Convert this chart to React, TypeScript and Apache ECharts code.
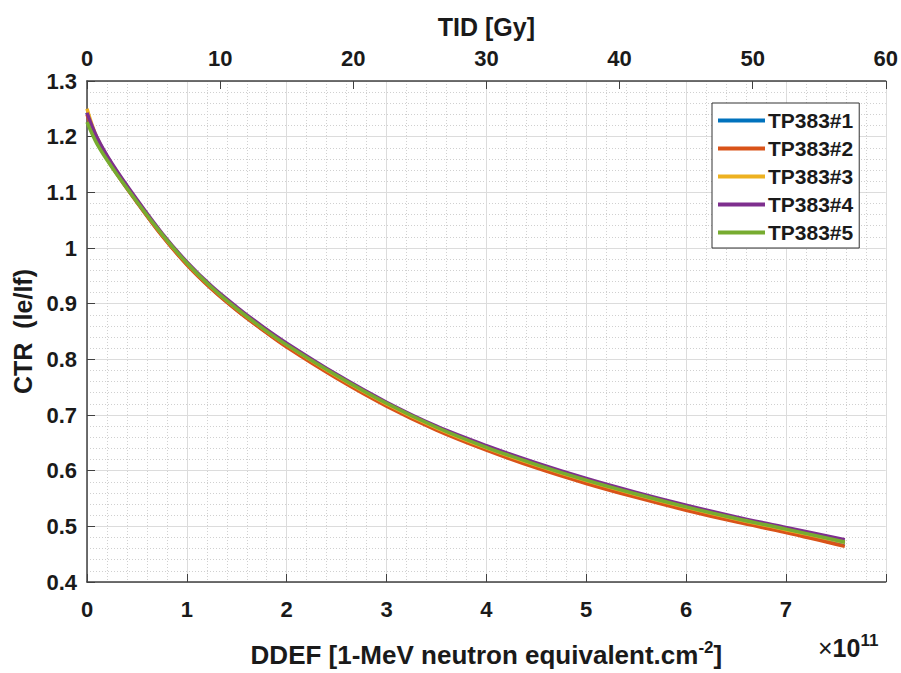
import React, { useEffect, useRef } from "react";
import * as echarts from "echarts";

const FONT = "'Liberation Sans', Arial, Helvetica, sans-serif";

const seriesNames = ["TP383#1", "TP383#2", "TP383#3", "TP383#4", "TP383#5"];
const seriesColors = ["#0072BD", "#D95319", "#EDB120", "#7E2F8E", "#77AC30"];

// DDEF (x 1e11)
const ddef = [0, 0.1, 0.25, 0.5, 0.75, 1, 1.25, 1.5, 1.75, 2, 2.5, 3, 3.5, 4, 4.5, 5, 5.5, 6, 6.5, 7, 7.59];

const ctr1 = [1.243, 1.195, 1.148, 1.083, 1.023, 0.971, 0.927, 0.889, 0.855, 0.824, 0.768, 0.718, 0.675, 0.639, 0.608, 0.580, 0.555, 0.532, 0.511, 0.492, 0.469];
const ctr2 = [1.240, 1.193, 1.146, 1.082, 1.022, 0.970, 0.926, 0.888, 0.854, 0.822, 0.766, 0.716, 0.673, 0.637, 0.605, 0.577, 0.552, 0.529, 0.508, 0.489, 0.464];
const ctr3 = [1.250, 1.198, 1.150, 1.085, 1.025, 0.973, 0.929, 0.891, 0.857, 0.826, 0.770, 0.720, 0.677, 0.641, 0.610, 0.582, 0.557, 0.534, 0.513, 0.494, 0.471];
const ctr4 = [1.243, 1.199, 1.152, 1.087, 1.027, 0.975, 0.931, 0.894, 0.860, 0.829, 0.773, 0.723, 0.680, 0.645, 0.614, 0.586, 0.561, 0.538, 0.517, 0.498, 0.476];
const ctr5 = [1.226, 1.187, 1.145, 1.083, 1.025, 0.973, 0.929, 0.891, 0.857, 0.826, 0.771, 0.721, 0.678, 0.642, 0.611, 0.583, 0.558, 0.535, 0.514, 0.495, 0.472];
const ctrAll = [ctr1, ctr2, ctr3, ctr4, ctr5];

const xMin = 0, xMax = 8, xStep = 1;
const tidMin = 0, tidMax = 60, tidStep = 10;
const yMin = 0.4, yMax = 1.3, yStep = 0.1;

const axisColor = "#404040";
const textColor = "#1a1a1a";
const majorGrid = "#dcdcdc";
const minorGrid = "#d0d0d0";

export default function App() {
  const ref = useRef<HTMLDivElement>(null);
  useEffect(() => {
    if (!ref.current) return;
    const chart = echarts.init(ref.current, undefined, { renderer: "svg" });
    const tickStyle = { fontSize: 22, fontWeight: "bold" as const, color: textColor, fontFamily: FONT };
    const titleStyle = { fontSize: 25, fontWeight: "bold" as const, color: textColor, fontFamily: FONT };
    const option = {
      animation: false,
      backgroundColor: "#ffffff",
      textStyle: { fontFamily: FONT },
      grid: { left: 87, right: 15, top: 81, bottom: 83, containLabel: false },
      legend: {
        orient: "vertical",
        left: 712,
        top: 103,
        padding: [7, 6, 5, 6],
        itemGap: 7,
        itemWidth: 47,
        itemHeight: 4,
        icon: "rect",
        borderColor: "#333333",
        borderWidth: 1,
        backgroundColor: "#ffffff",
        textStyle: { fontSize: 21, fontWeight: "bold", color: textColor, fontFamily: FONT, padding: [0, 0, 0, -2] },
        data: seriesNames,
      },
      xAxis: [
        {
          type: "value",
          position: "bottom",
          min: xMin,
          max: xMax,
          interval: xStep,
          axisLine: { show: true, onZero: false, lineStyle: { color: axisColor, width: 1.5 } },
          axisTick: { show: true, inside: true, length: 8, lineStyle: { color: axisColor } },
          axisLabel: { ...tickStyle, margin: 16, formatter: (v: number) => (v === xMax ? "" : String(v)) },
          splitLine: { show: true, lineStyle: { color: majorGrid, width: 1 } },
          minorTick: { show: false, splitNumber: 5 },
          minorSplitLine: { show: true, lineStyle: { color: minorGrid, width: 1, type: [1, 2] } },
          name: "DDEF [1-MeV neutron equivalent.cm{sup|-2}]",
          nameLocation: "middle",
          nameGap: 57,
          nameTextStyle: {
            ...titleStyle,
            fontSize: 26,
            rich: {
              sup: { fontSize: 17, fontWeight: "bold", color: textColor, fontFamily: FONT, verticalAlign: "bottom", padding: [0, 0, 15, 0] },
            },
          },
        },
        {
          type: "value",
          position: "top",
          min: tidMin,
          max: tidMax,
          interval: tidStep,
          axisLine: { show: true, onZero: false, lineStyle: { color: axisColor, width: 1.5 } },
          axisTick: { show: true, inside: true, length: 8, lineStyle: { color: axisColor } },
          axisLabel: { ...tickStyle, margin: 12 },
          splitLine: { show: false },
          name: "TID [Gy]",
          nameLocation: "middle",
          nameGap: 42,
          nameTextStyle: { ...titleStyle },
        },
      ],
      yAxis: {
        type: "value",
        min: yMin,
        max: yMax,
        interval: yStep,
        axisLine: { show: true, onZero: false, lineStyle: { color: axisColor, width: 1.5 } },
        axisTick: { show: true, inside: true, length: 8, lineStyle: { color: axisColor } },
        axisLabel: { ...tickStyle, margin: 10 },
        splitLine: { show: true, lineStyle: { color: majorGrid, width: 1 } },
        minorTick: { show: false, splitNumber: 5 },
        minorSplitLine: { show: true, lineStyle: { color: minorGrid, width: 1, type: [1, 2] } },
        name: "CTR  (Ie/If)",
        nameLocation: "middle",
        nameGap: 52,
        nameRotate: 90,
        nameTextStyle: { ...titleStyle },
      },
      graphic: [
        {
          type: "text",
          left: 818,
          top: 632,
          style: {
            text: "×{n|10}{sup|11}",
            fontSize: 25,
            fontWeight: "normal",
            fill: textColor,
            fontFamily: FONT,
            rich: {
              n: { fontSize: 25, fontWeight: "bold", fill: textColor, fontFamily: FONT },
              sup: { fontSize: 17, fontWeight: "bold", fill: textColor, fontFamily: FONT, verticalAlign: "bottom", padding: [0, 0, 15, 0] },
            },
          },
        },
      ],
      series: seriesNames.map((name, i) => ({
        name,
        type: "line",
        xAxisIndex: 0,
        yAxisIndex: 0,
        showSymbol: false,
        symbol: "none",
        smooth: 0.35,
        color: seriesColors[i],
        lineStyle: { width: 3.5, color: seriesColors[i] },
        data: ddef.map((x, j) => [x, ctrAll[i][j]]),
      })),
    };
    chart.setOption(option as any);
    return () => chart.dispose();
  }, []);
  return <div ref={ref} style={{ position: "fixed", left: 0, top: 0, width: 901, height: 673, background: "#fff" }} />;
}
